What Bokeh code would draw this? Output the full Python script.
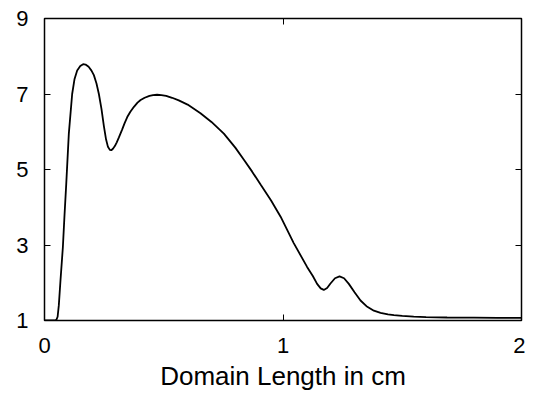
from bokeh.plotting import figure
from bokeh.models import LinearAxis, FixedTicker, Range1d, ColumnDataSource
from bokeh.embed import file_html
from bokeh.resources import INLINE

# Data
x_cm = [0.0, 0.02, 0.04, 0.05, 0.055, 0.06, 0.067, 0.077, 0.084, 0.091, 0.102, 0.116,
        0.126, 0.137, 0.15, 0.162, 0.172, 0.185, 0.197, 0.207, 0.218, 0.228, 0.239,
        0.249, 0.258, 0.266, 0.274, 0.28, 0.287, 0.295, 0.303, 0.312, 0.325, 0.336,
        0.347, 0.36, 0.375, 0.39, 0.403, 0.42, 0.44, 0.455, 0.472, 0.49, 0.51, 0.535,
        0.563, 0.6, 0.654, 0.7, 0.752, 0.8, 0.836, 0.87, 0.906, 0.95, 0.99, 1.045,
        1.101, 1.125, 1.143, 1.158, 1.171, 1.185, 1.199, 1.218, 1.237, 1.256, 1.276,
        1.3, 1.325, 1.35, 1.381, 1.409, 1.44, 1.465, 1.5, 1.548, 1.6, 1.688, 1.8,
        1.9, 2.0]
y_val = [1.0, 1.0, 1.0, 1.02, 1.1, 1.4, 2.06, 2.94, 3.8, 4.6, 5.95, 7.0,
         7.4, 7.62, 7.74, 7.79, 7.78, 7.72, 7.62, 7.5, 7.28, 7.0, 6.6,
         6.15, 5.8, 5.6, 5.52, 5.51, 5.55, 5.62, 5.72, 5.85, 6.05, 6.23,
         6.39, 6.53, 6.66, 6.77, 6.84, 6.9, 6.95, 6.97, 6.98, 6.97, 6.95, 6.9,
         6.83, 6.72, 6.49, 6.26, 5.95, 5.58, 5.26, 4.95, 4.6, 4.18, 3.75, 3.05,
         2.42, 2.18, 1.97, 1.85, 1.81, 1.86, 1.98, 2.12, 2.17, 2.12, 1.97,
         1.75, 1.53, 1.38, 1.26, 1.2, 1.16, 1.14, 1.12, 1.1, 1.09, 1.08, 1.075,
         1.07, 1.07]

x_ticks = [0, 1, 2]
y_ticks = [1, 3, 5, 7, 9]
x_label = "Domain Length in cm"

FONT = "Liberation Sans"

p = figure(frame_width=477, frame_height=302, output_backend="svg", toolbar_location=None,
           x_range=Range1d(0, 2), y_range=Range1d(1, 9),
           min_border_left=44, min_border_top=18, min_border_right=4, min_border_bottom=60,
           x_axis_location=None, y_axis_location=None)
p.grid.visible = False
p.outline_line_color = "black"
p.outline_line_width = 1.5
p.background_fill_color = "white"
p.border_fill_color = "white"

def style(ax, ticks, labels=True):
    ax.ticker = FixedTicker(ticks=ticks)
    ax.minor_tick_line_color = None
    ax.axis_line_color = None
    ax.major_tick_in = 6
    ax.major_tick_out = 0
    ax.major_tick_line_color = "black"
    ax.major_tick_line_width = 1
    if labels:
        ax.major_label_text_font = FONT
        ax.major_label_text_font_size = "22px"
        ax.major_label_text_color = "black"
    else:
        ax.major_label_text_font_size = "0px"
        ax.major_label_standoff = 0

bottom = LinearAxis(axis_label=x_label)
style(bottom, x_ticks)
bottom.major_label_standoff = 17
bottom.axis_label_text_font = FONT
bottom.axis_label_text_font_size = "26px"
bottom.axis_label_text_font_style = "normal"
bottom.axis_label_text_color = "black"
bottom.axis_label_standoff = 5
p.add_layout(bottom, "below")

left = LinearAxis()
style(left, y_ticks)
left.major_label_standoff = 16
p.add_layout(left, "left")

top = LinearAxis()
style(top, x_ticks, labels=False)
p.add_layout(top, "above")

right = LinearAxis()
style(right, y_ticks, labels=False)
p.add_layout(right, "right")

src = ColumnDataSource(dict(x=x_cm, y=y_val))
p.line("x", "y", source=src, line_color="black", line_width=1.8)

open("out.html", "w").write(file_html(p, INLINE))
